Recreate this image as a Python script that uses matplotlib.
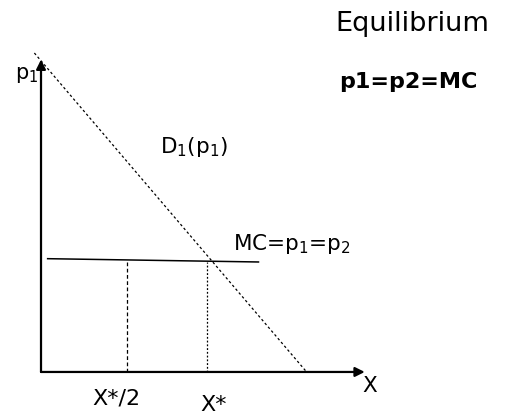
import matplotlib.pyplot as plt

plt.rcParams['font.family'] = ['DejaVu Sans']
plt.rcParams['mathtext.default'] = 'regular'

# Diagram values (X in units of X*, price in units of MC)
axis_origin = (0.0, 0.0)
x_axis_end = 1.95
p_axis_end = 2.84

demand_x = [-0.04, 1.6]
demand_p = [2.9, 0.0]

mc_x = [0.04, 1.31]
mc_p = [1.03, 1.0]

x_half = 0.52
x_star = 1.0
mc_level = 1.0

fig = plt.figure(figsize=(5.07, 4.12), dpi=100)
ax = fig.add_axes([0, 0, 1, 1])
ax.set_xlim(-0.247, 2.807)
ax.set_ylim(-0.364, 3.382)
ax.axis('off')

# axes with arrow heads
arrow = dict(arrowstyle='-|>', lw=1.6, color='black', mutation_scale=14, shrinkA=0, shrinkB=0)
ax.annotate('', xy=(axis_origin[0], p_axis_end), xytext=axis_origin, arrowprops=arrow)
ax.annotate('', xy=(x_axis_end, axis_origin[1]), xytext=axis_origin, arrowprops=arrow)

# demand and marginal cost
ax.plot(demand_x, demand_p, color='black', lw=0.9, linestyle=(0, (2, 2)))
ax.plot(mc_x, mc_p, color='black', lw=1.1)

# drop lines
ax.plot([x_half, x_half], [0, mc_level], color='black', lw=0.9, linestyle=(0, (3, 2)))
ax.plot([x_star, x_star], [0, mc_level], color='black', lw=0.9, linestyle=(0, (1.5, 1.5)))

# labels
ax.text(-0.157, 2.66, 'p$_1$', fontsize=15, ha='left', va='baseline')
ax.text(0.717, 1.99, 'D$_1$(p$_1$)', fontsize=15.5, ha='left', va='baseline')
ax.text(1.157, 1.109, 'MC=p$_1$=p$_2$', fontsize=15.5, ha='left', va='baseline')
ax.text(1.934, -0.18, 'X', fontsize=15.5, ha='left', va='baseline')
ax.text(0.307, -0.3, 'X*/2', fontsize=16, ha='left', va='baseline')
ax.text(0.958, -0.353, 'X*', fontsize=16, ha='left', va='baseline')
ax.text(1.771, 3.1, 'Equilibrium', fontsize=19.5, ha='left', va='baseline')
ax.text(1.795, 2.58, 'p1=p2=MC', fontsize=16, fontweight='bold', ha='left', va='baseline')

fig.savefig('out.png', dpi=100)
